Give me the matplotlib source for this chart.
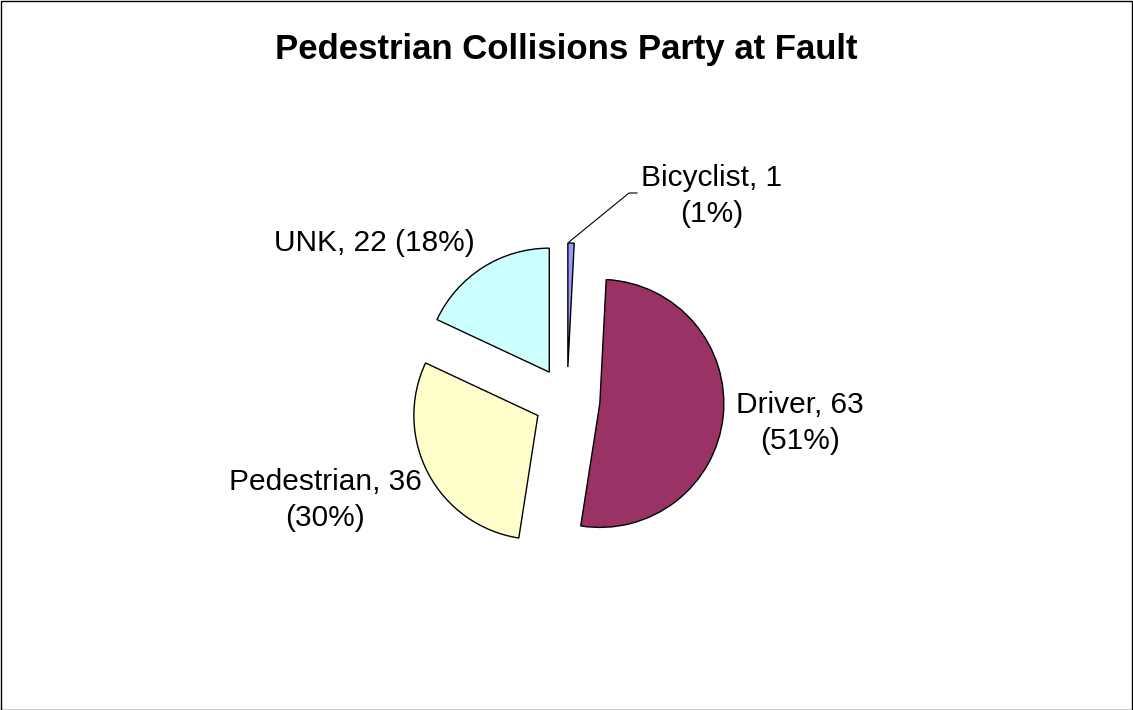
import matplotlib
matplotlib.use("Agg")
import matplotlib.pyplot as plt
from matplotlib.patches import Rectangle

categories = ["Bicyclist", "Driver", "Pedestrian", "UNK"]
counts = [1, 63, 36, 22]
pct_labels = [1, 51, 30, 18]
colors = ["#9999FF", "#993366", "#FFFFCC", "#CCFFFF"]
title = "Pedestrian Collisions Party at Fault"

W, H = 1133, 710
fig = plt.figure(figsize=(W / 100, H / 100), dpi=100)
ax = fig.add_axes([0, 0, 1, 1])

cx, cy = 567, H - 400
wedges, _ = ax.pie(counts, colors=colors, startangle=90, counterclock=False,
                   center=(cx, cy), radius=124, explode=[33] * len(counts),
                   wedgeprops=dict(edgecolor="black", linewidth=1.0),
                   frame=True)
ax.set_xlim(0, W)
ax.set_ylim(0, H)
ax.set_aspect("equal")
ax.axis("off")

fs = 21.5
font = "Liberation Sans"
ls = 1.35
txt = [f"{c}, {v}\n({p}%)" for c, v, p in zip(categories, counts, pct_labels)]
ax.text(712, H - 196, txt[0], ha="center", va="center", fontsize=fs,
        family=font, linespacing=ls)
ax.text(800, H - 423, txt[1], ha="center", va="center", fontsize=fs,
        family=font, linespacing=ls)
ax.text(325, H - 500, txt[2], ha="center", va="center", fontsize=fs,
        family=font, linespacing=ls)
ax.text(374, H - 243, f"{categories[3]}, {counts[3]} ({pct_labels[3]}%)",
        ha="center", va="center", fontsize=fs, family=font)

# leader line for Bicyclist
ax.plot([569, 629, 637], [H - 242, H - 193, H - 193], color="black", lw=0.8)

fig.text(0.5, 1 - 50 / H, title, ha="center", va="center", fontsize=25,
         fontweight="bold", family=font)

fig.patches.append(Rectangle((0.5 / W, 0.5 / H), 1 - 1.5 / W, 1 - 1.5 / H,
                             transform=fig.transFigure, fill=False,
                             edgecolor="black", linewidth=1.0))

fig.savefig("out.png", dpi=100, facecolor="white")
